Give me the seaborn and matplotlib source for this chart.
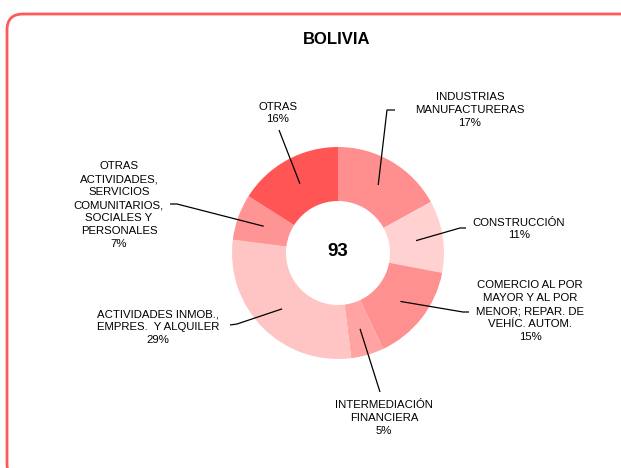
import numpy as np
import matplotlib
matplotlib.use("Agg")
import matplotlib.pyplot as plt
import seaborn as sns
from matplotlib.patches import FancyBboxPatch

sns.set_theme(style="white")
plt.rcParams['font.family'] = ['Liberation Sans', 'DejaVu Sans']

# ---- data ----
categories = [
    "INDUSTRIAS\nMANUFACTURERAS",
    "CONSTRUCCIÓN",
    "COMERCIO AL POR\nMAYOR Y AL POR\nMENOR; REPAR. DE\nVEHÍC. AUTOM.",
    "INTERMEDIACIÓN\nFINANCIERA",
    "ACTIVIDADES INMOB.,\nEMPRES.  Y ALQUILER",
    "OTRAS\nACTIVIDADES,\nSERVICIOS\nCOMUNITARIOS,\nSOCIALES Y\nPERSONALES",
    "OTRAS",
]
shares = [17, 11, 15, 5, 29, 7, 16]
total_label = "93"
title = "BOLIVIA"
colors = ["#FF8F8F", "#FFD1D1", "#FF9090", "#FFA3A3", "#FFC4C4", "#FF9494", "#FF5555"]

W, H = 621, 468
fig = plt.figure(figsize=(W / 100, H / 100), dpi=100)
ax = fig.add_axes([0, 0, 1, 1])

def Y(y):
    return H - y

cx, cy = 338, Y(253)
R_out, R_in = 106, 52

ax.pie(shares, colors=colors, startangle=90, counterclock=False,
       center=(cx, cy), radius=R_out,
       wedgeprops=dict(width=R_out - R_in, edgecolor="none", linewidth=0))
ax.set_xlim(0, W)
ax.set_ylim(0, H)
ax.set_aspect("equal")
ax.axis("off")

# border
border = FancyBboxPatch((7, Y(480)), 614 + 20, 480 - 14, boxstyle="round,pad=0,rounding_size=16",
                        linewidth=2, edgecolor="#FF5A5A", facecolor="none",
                        transform=ax.transData, clip_on=False)
ax.add_patch(border)

ax.text(337, Y(40), title, ha="center", va="center", fontsize=12, fontweight="bold", color="black")
ax.text(cx, cy + 1, total_label, ha="center", va="center", fontsize=13.5, fontweight="bold", color="black")

# label layout: text center, line path (px)
layout = [
    dict(text=(470, 110), path=[(387, 110), (395, 110)]),
    dict(text=(519, 229), path=[(460, 228), (466, 228)]),
    dict(text=(530, 311), path=[(463, 312), (469, 312)]),
    dict(text=(384, 418), path=[(380, 392)]),
    dict(text=(158, 327), path=[(237, 324), (230, 325)]),
    dict(text=(119, 205), path=[(177, 204), (170, 204)]),
    dict(text=(278, 113), path=[(279, 130)]),
]

cum = np.cumsum([0] + shares)
tot = float(sum(shares))
r_mid = (R_out + R_in) / 2
for i, (cat, v) in enumerate(zip(categories, shares)):
    mid = (cum[i] + cum[i + 1]) / 2 / tot
    ang = np.deg2rad(90 - 360 * mid)
    sx, sy = cx + r_mid * np.cos(ang), cy + r_mid * np.sin(ang)
    xs = [sx] + [p[0] for p in layout[i]["path"]]
    ys = [sy] + [Y(p[1]) for p in layout[i]["path"]]
    ax.plot(xs, ys, color="black", lw=0.9, solid_capstyle="butt")
    tx, ty = layout[i]["text"]
    ax.text(tx, Y(ty), f"{cat}\n{v}%", ha="center", va="center", fontsize=8.2,
            color="black", linespacing=1.36)

fig.savefig("out.png", dpi=100, facecolor="white")
